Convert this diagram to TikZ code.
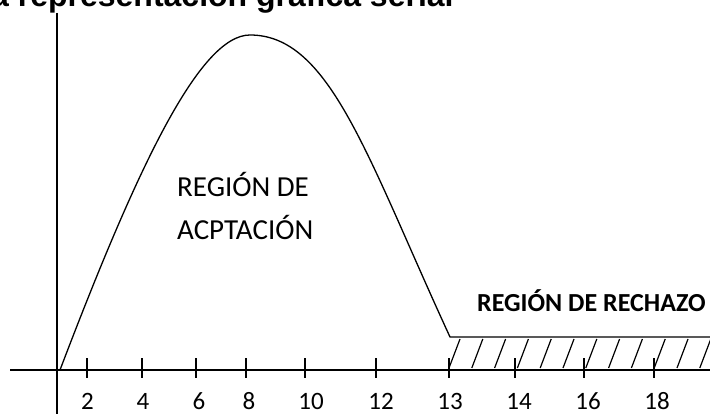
\documentclass[tikz,border=0pt]{standalone}
\usepackage{fontspec}
\setmainfont{Carlito}
\newfontfamily\titlefont{Liberation Sans}
\begin{document}
\begin{tikzpicture}[x=1pt,y=-1pt,
  axis/.style={line width=2pt},
  curve/.style={line width=1.3pt, line join=miter},
  tick/.style={line width=1.8pt},
  hatch/.style={line width=1.2pt},
  ticklabel/.style={font=\fontsize{25}{30}\selectfont, anchor=base, inner sep=0pt},
  regtext/.style={font=\fontsize{29}{34}\selectfont, anchor=base west, inner sep=0pt},
  rejtext/.style={font=\bfseries\fontsize{26}{31}\selectfont, anchor=base west, inner sep=0pt}]
\useasboundingbox (0,0) rectangle (710,414);
\clip (0,0) rectangle (710,414);
% title (cut at top)
\node[font=\titlefont\bfseries\fontsize{32}{38}\selectfont, anchor=base west, inner sep=0pt] (title) at (-9,7) {a representación gráfica serial};
% axes
\draw[axis] (57,13) -- (57,414);
\draw[axis] (10,370) -- (710,370);
% ticks and labels
\foreach \x/\lx/\t in {87/87.5/2, 142/143/4, 196/199/6, 246/249/8, 305/311/10, 376/381/12, 449/450/13, 515/519/14, 584/588/16, 654/657/18}{
  \draw[tick] (\x,358) -- (\x,378);
  \node[ticklabel] (lab\t) at (\lx,409) {\t};
}
% acceptance curve
\draw[curve] (60,370) .. controls (138,165) and (200,35) .. (250,35)
  .. controls (330,35) and (367,157) .. (450,337) -- (710,337);
% hatching
\foreach \k in {0,...,11}{
  \draw[hatch] ({460+22.8*\k},339) -- ({449+22.8*\k},368);
}
% texts
\node[regtext] (acc1) at (177,197) {REGIÓN DE};
\node[regtext] (acc2) at (177,240) {ACPTACIÓN};
\node[rejtext] (rej) at (477,312) {REGIÓN DE RECHAZO};
\end{tikzpicture}
\end{document}
